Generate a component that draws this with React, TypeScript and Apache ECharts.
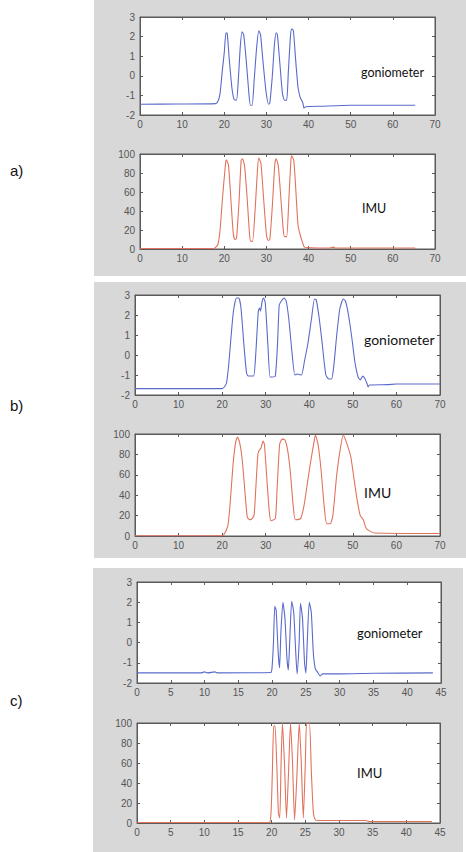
import React, { useEffect, useRef } from "react";
import * as echarts from "echarts";

// ---------- data ----------
const panelLabels = ["a)", "b)", "c)"];
const seriesNames = ["goniometer", "IMU"];
const xRanges = [
  [0, 70, 10],
  [0, 70, 10],
  [0, 45, 5],
];
const gonioRange = [-2, 3, 1];
const imuRange = [0, 100, 20];

const goniometerA: number[][] = [
  [0, -1.45], [9, -1.44], [9.1, -1.42], [18, -1.42], [18.6, -1.25], [19, -0.9], [19.5, 0.2], [20, 1.2],
  [20.4, 2.2], [20.7, 2.15], [21.2, 0.8], [21.8, -0.6], [22.3, -1.2], [22.9, -1.25], [23.3, -0.3],
  [23.8, 1.5], [24.2, 2.25], [24.6, 2.1], [25.2, 0.8], [25.8, -0.8], [26.2, -1.5], [26.6, -1.5],
  [27.1, -0.2], [27.7, 1.5], [28.2, 2.3], [28.6, 2.1], [29.2, 0.7], [29.9, -0.8], [30.5, -1.45],
  [30.8, -1.4], [31.4, 0], [31.9, 1.6], [32.3, 2.2], [32.6, 2.1], [33.2, 0.6], [33.8, -0.9],
  [34.3, -1.25], [34.8, -1.25], [35.2, 0.2], [35.7, 2.0], [36, 2.4], [36.4, 2.3], [36.9, 0.9],
  [37.5, -0.6], [38, -1.1], [38.6, -1.35], [38.9, -1.65], [39.3, -1.58], [43, -1.55], [50, -1.5], [65.3, -1.5],
];
const imuA: number[][] = [
  [0, 0.5], [17.5, 0.5], [18, 2], [18.5, 5], [19, 20], [19.6, 55], [20.3, 90], [20.5, 94], [21, 88],
  [21.6, 50], [22.1, 18], [22.5, 10], [22.9, 11], [23.5, 50], [24, 93], [24.3, 95], [24.8, 88],
  [25.4, 55], [26, 15], [26.3, 8], [26.7, 8], [27.3, 40], [27.9, 85], [28.2, 96], [28.7, 90],
  [29.3, 55], [30, 15], [30.4, 9], [30.8, 10], [31.4, 45], [32, 90], [32.3, 95], [32.8, 88],
  [33.4, 55], [34, 20], [34.3, 13], [34.8, 13], [35.3, 50], [35.8, 93], [36, 98], [36.5, 93],
  [37, 60], [37.5, 25], [38, 15], [38.5, 8], [39, 2], [40, 1.5], [40.1, 1], [45, 1], [46, 2],
  [46.3, 1], [65.3, 1],
];
const goniometerB: number[][] = [
  [0, -1.68], [20, -1.68], [20.5, -1.6], [21, -1.4], [21.5, -0.5], [22, 0.8], [22.6, 2.2], [23.3, 2.85],
  [23.8, 2.85], [24.3, 2.4], [25, 0.5], [25.6, -0.9], [26, -1.05], [27.2, -1.05], [27.7, 0],
  [28.3, 2.2], [28.6, 2.35], [28.8, 2.2], [29.2, 2.7], [29.5, 2.85], [29.9, 2.6], [30.5, 0.5],
  [31, -1.1], [31.5, -1.1], [32.2, -1.05], [32.7, 0.5], [33.1, 2.5], [33.6, 2.7], [34.2, 2.85],
  [34.7, 2.7], [35.3, 1.8], [36, 0.2], [36.7, -1.0], [37.3, -0.95], [38.2, -1.0], [38.9, -0.3],
  [39.7, 0.6], [40.5, 1.8], [41.2, 2.8], [41.6, 2.75], [42.3, 1.8], [43, 0.5], [43.8, -1.0],
  [44.5, -1.2], [45.1, -1.2], [45.6, -0.6], [46.3, 1.0], [47, 2.3], [47.8, 2.8], [48.3, 2.7],
  [49, 2.0], [49.8, 0.8], [50.5, -0.4], [51.2, -1.1], [51.7, -1.25], [52.3, -1.05], [52.8, -1.2],
  [53.2, -1.4], [53.5, -1.6], [53.8, -1.5], [58, -1.48], [60, -1.45], [70, -1.45],
];
const imuB: number[][] = [
  [0, 0.3], [20, 0.3], [20.5, 2], [21.3, 10], [21.8, 30], [22.5, 70], [23.1, 92], [23.5, 97],
  [24, 92], [24.6, 75], [25.3, 40], [25.8, 18], [26.5, 16], [27.3, 20], [27.7, 45], [28.2, 80],
  [28.5, 84], [28.9, 86], [29.4, 93], [29.7, 90], [30.2, 60], [30.8, 25], [31.2, 15], [32.2, 17],
  [32.6, 45], [33.2, 90], [33.8, 95], [34.4, 94], [35, 85], [35.6, 65], [36.3, 30], [36.8, 16],
  [38, 17], [38.8, 30], [39.5, 50], [40.2, 70], [41, 90], [41.4, 99], [42, 90], [42.7, 65],
  [43.4, 30], [44, 12], [44.8, 12], [45.4, 20], [46.3, 60], [47.1, 85], [47.8, 99], [48.5, 92],
  [49.5, 78], [50.3, 55], [51, 35], [51.7, 20], [52.4, 16], [53, 8], [53.8, 5], [55, 3], [70, 2.5],
];
const goniometerC: number[][] = [
  [0, -1.5], [9.5, -1.5], [10, -1.45], [10.5, -1.5], [11.5, -1.45], [12, -1.5], [19.8, -1.48],
  [20, -1.2], [20.2, 0], [20.4, 1.8], [20.6, 1.6], [20.9, -0.5], [21.1, -1.25], [21.3, 0.5],
  [21.6, 2.0], [21.9, 1.2], [22.2, -0.8], [22.4, -1.35], [22.6, 0], [22.9, 2.05], [23.2, 1.5],
  [23.5, -0.5], [23.7, -1.55], [24, 0], [24.2, 1.95], [24.5, 1.2], [24.8, -1.0], [25, -1.5],
  [25.2, 0], [25.5, 2.0], [25.8, 1.5], [26.1, -0.5], [26.4, -1.3], [26.8, -1.5], [27.1, -1.65],
  [27.5, -1.55], [30, -1.55], [35, -1.52], [43.8, -1.5],
];
const imuC: number[][] = [
  [0, 0.5], [19.6, 0.5], [19.9, 10], [20.1, 50], [20.3, 97], [20.5, 97], [20.8, 50], [21, 10],
  [21.2, 5], [21.4, 60], [21.6, 100], [21.9, 60], [22.2, 5], [22.5, 50], [22.8, 100], [23.1, 60],
  [23.4, 3], [23.7, 40], [24.1, 100], [24.4, 60], [24.7, 5], [25, 60], [25.2, 100], [25.6, 100],
  [25.9, 50], [26.2, 10], [26.5, 3], [27, 2.5], [34, 2.5], [34.5, 1.5], [43.8, 1.5],
];

const gonioData = [goniometerA, goniometerB, goniometerC];
const imuData = [imuA, imuB, imuC];

// ---------- layout ----------
const FONT = "'Liberation Sans', Arial, sans-serif";
const LABEL_FONT = "Lato, 'Open Sans', sans-serif";
const BLUE = "#5a6acb";
const RED = "#e0735e";
const AXIS = "#5a5a5a";

const panels = [
  { bg: [94, 0, 372, 276], label: [10, 170], top: [140, 17, 295, 98], bottom: [140, 154, 295, 95],
    gLabel: [361, 72], iLabel: [362, 208], fs: 12.5 },
  { bg: [94, 282, 372, 276], label: [10, 405], top: [135, 295, 305, 100], bottom: [135, 434, 305, 102],
    gLabel: [364, 339], iLabel: [364, 492], fs: 14 },
  { bg: [93, 568, 370, 284], label: [10, 700], top: [137, 582, 304, 101], bottom: [137, 723, 303, 100],
    gLabel: [357, 633], iLabel: [357, 773], fs: 13 },
];

function buildOption() {
  const grid: any[] = [];
  const xAxis: any[] = [];
  const yAxis: any[] = [];
  const series: any[] = [];
  const graphic: any[] = [];

  panels.forEach((p, pi) => {
    graphic.push({
      type: "rect", z: -10, silent: true,
      shape: { x: p.bg[0], y: p.bg[1], width: p.bg[2], height: p.bg[3] },
      style: { fill: "#d8d8d8" },
    });
    graphic.push({
      type: "text", z: 100, x: p.label[0], y: p.label[1],
      style: { text: panelLabels[pi], font: `15px ${FONT}`, fill: "#111", verticalAlign: "middle" },
    });
    graphic.push({
      type: "text", z: 100, x: p.gLabel[0], y: p.gLabel[1],
      style: { text: seriesNames[0], font: `${p.fs}px ${LABEL_FONT}`, fill: "#111", verticalAlign: "middle" },
    });
    graphic.push({
      type: "text", z: 100, x: p.iLabel[0], y: p.iLabel[1],
      style: { text: seriesNames[1], font: `${p.fs}px ${LABEL_FONT}`, fill: "#111", verticalAlign: "middle" },
    });

    const subs = [
      { rect: p.top, yr: gonioRange, data: gonioData[pi], color: BLUE, name: seriesNames[0] },
      { rect: p.bottom, yr: imuRange, data: imuData[pi], color: RED, name: seriesNames[1] },
    ];
    subs.forEach((s) => {
      const gi = grid.length;
      grid.push({
        left: s.rect[0], top: s.rect[1], width: s.rect[2], height: s.rect[3],
        show: true, backgroundColor: "#ffffff", borderColor: AXIS, borderWidth: 1,
      });
      const xr = xRanges[pi];
      const axLine = { show: true, onZero: false, lineStyle: { color: AXIS, width: 1 } };
      const tick = { show: true, inside: true, length: 3, lineStyle: { color: AXIS } };
      xAxis.push({
        type: "value", gridIndex: gi, position: "bottom", min: xr[0], max: xr[1], interval: xr[2],
        axisLine: axLine, axisTick: tick, splitLine: { show: false },
        axisLabel: { color: "#555", fontSize: 10, fontFamily: FONT, margin: 4, showMinLabel: true, showMaxLabel: true },
      });
      xAxis.push({
        type: "value", gridIndex: gi, position: "top", min: xr[0], max: xr[1], interval: xr[2],
        axisLine: axLine, axisTick: tick, splitLine: { show: false }, axisLabel: { show: false },
      });
      yAxis.push({
        type: "value", gridIndex: gi, position: "left", min: s.yr[0], max: s.yr[1], interval: s.yr[2],
        axisLine: axLine, axisTick: tick, splitLine: { show: false },
        axisLabel: { color: "#555", fontSize: 10, fontFamily: FONT, margin: 5, showMinLabel: true, showMaxLabel: true },
      });
      yAxis.push({
        type: "value", gridIndex: gi, position: "right", min: s.yr[0], max: s.yr[1], interval: s.yr[2],
        axisLine: axLine, axisTick: tick, splitLine: { show: false }, axisLabel: { show: false },
      });
      series.push({
        type: "line", name: s.name, xAxisIndex: gi * 2, yAxisIndex: gi * 2,
        data: s.data, showSymbol: false, symbol: "none", smooth: 0.2,
        lineStyle: { color: s.color, width: 1.1 }, z: 5,
      });
    });
  });

  return {
    animation: false,
    backgroundColor: "#ffffff",
    grid, xAxis, yAxis, series, graphic,
  };
}

export default function App() {
  const ref = useRef<HTMLDivElement>(null);
  useEffect(() => {
    if (!ref.current) return;
    const chart = echarts.init(ref.current, undefined, { renderer: "svg" });
    chart.setOption(buildOption());
    return () => chart.dispose();
  }, []);
  return (
    <div
      ref={ref}
      style={{ position: "fixed", left: 0, top: 0, width: 466, height: 852, background: "#fff" }}
    />
  );
}
